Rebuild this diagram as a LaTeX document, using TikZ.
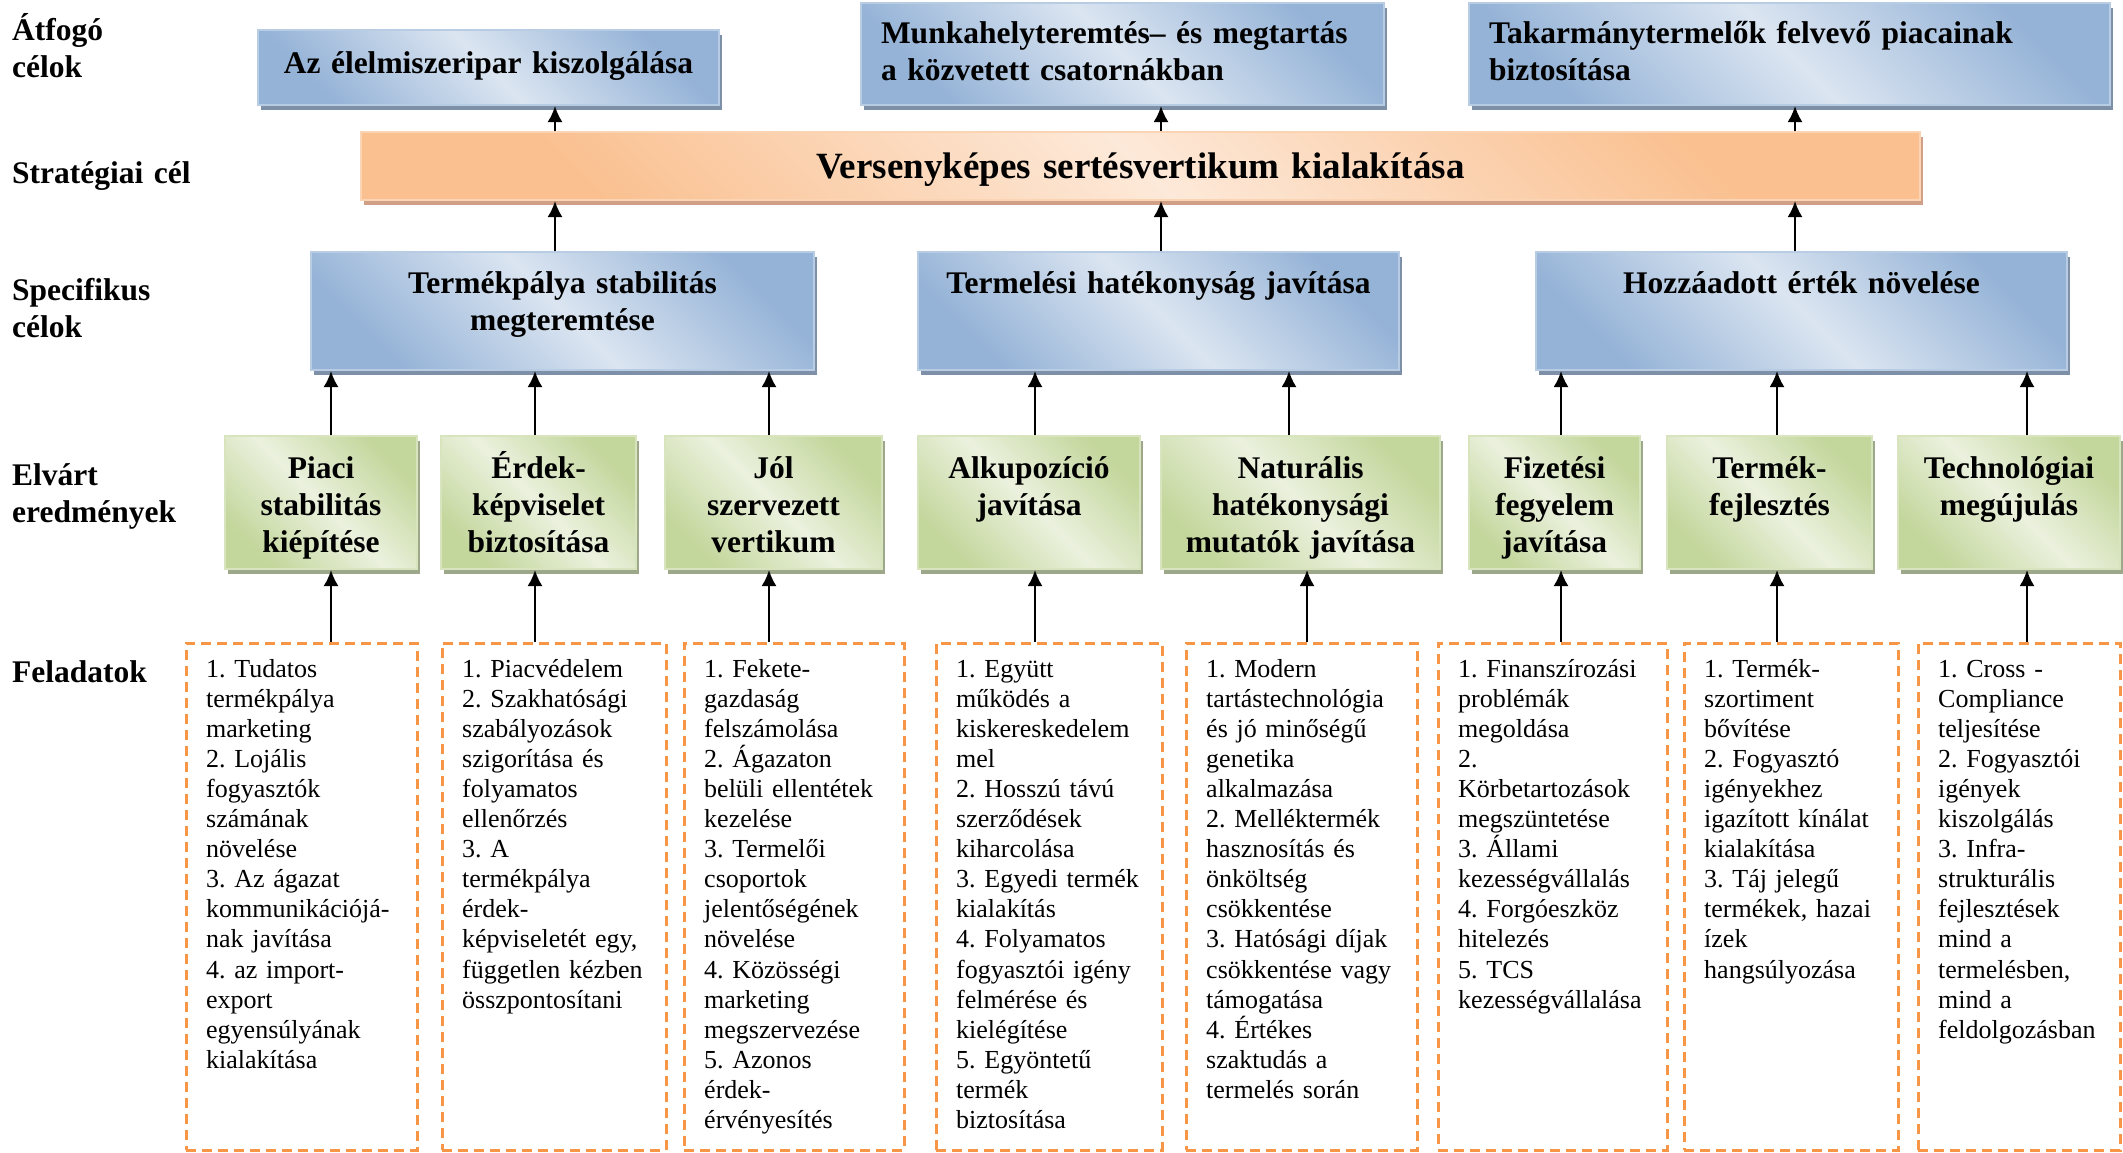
\documentclass[tikz,border=0pt]{standalone}
\usepackage{fontspec}
\setmainfont{Liberation Serif}
\usetikzlibrary{shadows,arrows.meta}

\definecolor{bluedk}{HTML}{95B3D7}
\definecolor{bluelt}{HTML}{DBE5F1}
\definecolor{bluebd}{HTML}{B8CCE4}
\definecolor{bluesh}{HTML}{7E90A8}
\definecolor{orangedk}{HTML}{FAC090}
\definecolor{orangelt}{HTML}{FDE9D9}
\definecolor{orangebd}{HTML}{FBD4B4}
\definecolor{orangesh}{HTML}{CFA085}
\definecolor{greendk}{HTML}{C3D69B}
\definecolor{greenlt}{HTML}{EBF1DE}
\definecolor{greenbd}{HTML}{D7E4BD}
\definecolor{greensh}{HTML}{9DA88A}
\definecolor{taskor}{HTML}{F79646}

\tikzset{
  box/.style={anchor=north west, inner xsep=0pt, inner ysep=0pt, line width=2pt,
    font=\bfseries\fontsize{31.5}{37}\selectfont, align=center, text height=41pt},
  bluebox/.style={box, draw=bluebd, left color=bluedk, right color=bluedk,
    middle color=bluelt, shading angle=-45,
    drop shadow={shadow xshift=3pt, shadow yshift=-5pt, fill=bluesh, opacity=1}},
  orangebox/.style={box, draw=orangebd, left color=orangedk, right color=orangedk,
    middle color=orangelt, shading angle=-45,
    drop shadow={shadow xshift=3pt, shadow yshift=-5pt, fill=orangesh, opacity=1}},
  greenbox/.style={box, draw=greenbd, left color=greendk, right color=greendk,
    middle color=greenlt, shading angle=-45,
    drop shadow={shadow xshift=3pt, shadow yshift=-5pt, fill=greensh, opacity=1}},
  taskbox/.style={anchor=north west, inner sep=0pt, draw=taskor, line width=2.5pt,
    dash pattern=on 10pt off 6pt, minimum height=507pt},
  tasktext/.style={anchor=base west, inner sep=0pt, text width=260pt, align=left,
    font=\fontsize{26}{30.1}\selectfont},
  rowlabel/.style={anchor=base west, inner sep=0pt, text width=260pt, align=left,
    font=\bfseries\fontsize{31.5}{37}\selectfont},
  arr/.style={-{Latex[length=16pt,width=15pt]}, line width=2.2pt}
}

\begin{document}
\frenchspacing
\begin{tikzpicture}[x=1pt,y=-1pt]
\useasboundingbox (0,0) rectangle (2123,1152);

% row labels
\node[rowlabel] (l1) at (12,40) {Átfogó\\célok};
\node[rowlabel] (l2) at (12,183) {Stratégiai cél};
\node[rowlabel] (l3) at (12,300) {Specifikus\\célok};
\node[rowlabel] (l4) at (12,485) {Elvárt\\eredmények};
\node[rowlabel] (l5) at (12,682) {Feladatok};

% overall goals
\node[bluebox, text width=461pt, text height=43pt, text depth=32pt] (t1) at (257,29)
  {Az élelmiszeripar kiszolgálása};
\node[bluebox, align=left, inner xsep=20pt, text width=483pt, text height=40pt, text depth=62pt] (t2) at (860,2)
  {Munkahelyteremtés– és megtartás\\a közvetett csatornákban};
\node[bluebox, align=left, inner xsep=20pt, text width=601pt, text height=40pt, text depth=62pt] (t3) at (1468,2)
  {Takarmánytermelők felvevő piacainak\\biztosítása};

% strategic goal
\node[orangebox, font=\bfseries\fontsize{37}{42}\selectfont, text width=1559pt,
  text height=46pt, text depth=22pt] (st) at (360,131)
  {Versenyképes sertésvertikum kialakítása};

% specific goals
\def\specs{s1/310/503/{Termékpálya stabilitás\\megteremtése},
  s2/917/481/{Termelési hatékonyság javítása},
  s3/1535/531/{Hozzáadott érték növelése}}
\foreach \n / \x / \w / \txt in \specs
  \node[bluebox, text width=\w pt, text depth=77pt] (\n) at (\x,251) {\txt};

% expected results
\def\results{g1/224/192/{Piaci\\stabilitás\\kiépítése},
  g2/440/195/{Érdek-\\képviselet\\biztosítása},
  g3/664/217/{Jól\\szervezett\\vertikum},
  g4/917/222/{Alkupozíció\\javítása},
  g5/1160/279/{Naturális\\hatékonysági\\mutatók javítása},
  g6/1468/171/{Fizetési\\fegyelem\\javítása},
  g7/1666/205/{Termék-\\fejlesztés},
  g8/1897/222/{Technológiai\\megújulás}}
\foreach \n / \x / \w / \txt in \results
  \node[greenbox, text width=\w pt, text height=42pt, text depth=91pt] (\n) at (\x,435) {\txt};

% tasks
\def\tasks{k1/185/231/{1. Tudatos\\termékpálya\\marketing\\2. Lojális\\fogyasztók\\számának\\növelése\\3. Az ágazat\\kommunikációjá-\\nak javítása\\4. az import-\\export\\egyensúlyának\\kialakítása},
  k2/441/224/{1. Piacvédelem\\2. Szakhatósági\\szabályozások\\szigorítása és\\folyamatos\\ellenőrzés\\3. A\\termékpálya\\érdek-\\képviseletét egy,\\független kézben\\összpontosítani},
  k3/683/220/{1. Fekete-\\gazdaság\\felszámolása\\2. Ágazaton\\belüli ellentétek\\kezelése\\3. Termelői\\csoportok\\jelentőségének\\növelése\\4. Közösségi\\marketing\\megszervezése\\5. Azonos\\érdek-\\érvényesítés},
  k4/935/226/{1. Együtt\\működés a\\kiskereskedelem\\mel\\2. Hosszú távú\\szerződések\\kiharcolása\\3. Egyedi termék\\kialakítás\\4. Folyamatos\\fogyasztói igény\\felmérése és\\kielégítése\\5. Egyöntetű\\termék\\biztosítása},
  k5/1185/231/{1. Modern\\tartástechnológia\\és jó minőségű\\genetika\\alkalmazása\\2. Melléktermék\\hasznosítás és\\önköltség\\csökkentése\\3. Hatósági díjak\\csökkentése vagy\\támogatása\\4. Értékes\\szaktudás a\\termelés során},
  k6/1437/229/{1. Finanszírozási\\problémák\\megoldása\\2.\\Körbetartozások\\megszüntetése\\3. Állami\\kezességvállalás\\4. Forgóeszköz\\hitelezés\\5. TCS\\kezességvállalása},
  k7/1683/214/{1. Termék-\\szortiment\\bővítése\\2. Fogyasztó\\igényekhez\\igazított kínálat\\kialakítása\\3. Táj jelegű\\termékek, hazai\\ízek\\hangsúlyozása},
  k8/1917/202/{1. Cross -\\Compliance\\teljesítése\\2. Fogyasztói\\igények\\kiszolgálás\\3. Infra-\\strukturális\\fejlesztések\\mind a\\termelésben,\\mind a\\feldolgozásban}}
\foreach \n / \x / \w / \txt in \tasks {
  \node[taskbox, minimum width=\w pt] (\n) at (\x,642) {};
  \node[tasktext] (\n t) at ([xshift=21pt,yshift=-35pt]\n.north west) {\txt};
}

% arrows
\foreach \lo / \hi / \x in {st/t1/555, st/t2/1161, st/t3/1795,
  s1/st/555, s2/st/1161, s3/st/1795,
  g1/s1/331, g2/s1/535, g3/s1/769, g4/s2/1035, g5/s2/1289,
  g6/s3/1561, g7/s3/1777, g8/s3/2027,
  k1/g1/331, k2/g2/535, k3/g3/769, k4/g4/1035, k5/g5/1307,
  k6/g6/1561, k7/g7/1777, k8/g8/2027}
  \draw[arr] (\x,0 |- \lo.north) -- (\x,0 |- \hi.south);

\end{tikzpicture}
\end{document}
